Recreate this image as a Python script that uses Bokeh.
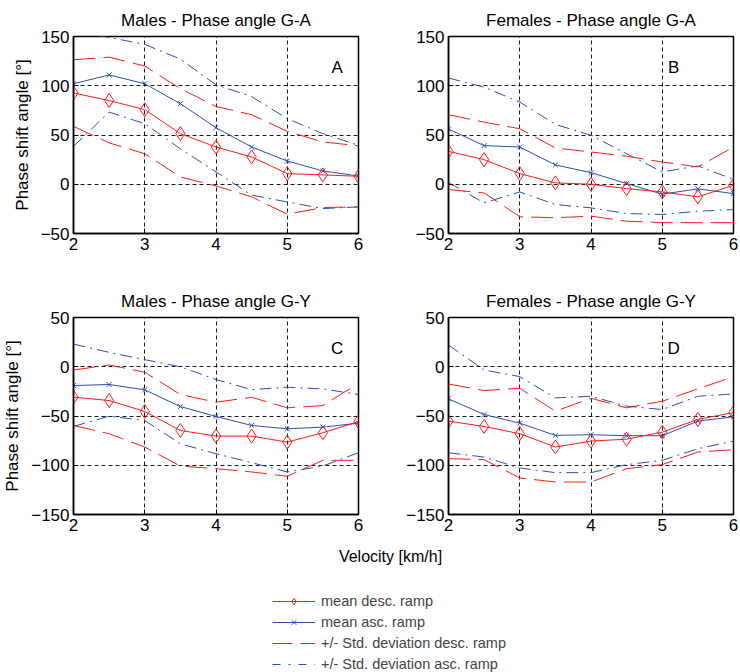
from bokeh.plotting import figure
from bokeh.layouts import column, row
from bokeh.models import Range1d, FixedTicker, Label, Legend, LegendItem, ColumnDataSource
from bokeh.embed import file_html
from bokeh.resources import INLINE

velocity = [2, 2.5, 3, 3.5, 4, 4.5, 5, 5.5, 6]

# Panel A - Males, phase angle G-A
a_mean_desc = [92.6, 85, 75.7, 51.4, 37.8, 27.7, 10.8, 9.5, 8.1]
a_mean_asc = [102, 111, 102, 81.8, 57.4, 37.8, 23.6, 13.5, 8.4]
a_sd_desc_up = [126.4, 129, 120, 97, 79, 70.6, 53.7, 43, 39]
a_sd_desc_lo = [58.8, 42, 31, 7.4, -1.7, -12.8, -30.4, -23.6, -23]
a_sd_asc_up = [156, 149, 142, 127, 101, 89, 66.6, 51.4, 39.5]
a_sd_asc_lo = [38.5, 73.3, 61.5, 36, 12.5, -11, -18, -24.7, -23]

# Panel B - Females, phase angle G-A
b_mean_desc = [33.4, 25, 10.8, 1.4, 0, -4.4, -7.8, -12.8, -1]
b_mean_asc = [56, 39.2, 37.8, 19.6, 11.8, 0.7, -10, -4.7, -9.5]
b_sd_desc_up = [70.6, 63, 56.4, 36.8, 32.8, 28.4, 22.6, 17.6, 37.8]
b_sd_desc_lo = [-5.4, -8.8, -33, -34, -32.4, -37.5, -38.9, -39, -39]
b_sd_asc_up = [107.8, 98.6, 83.4, 60.8, 49.7, 31, 12.5, 18.6, 5]
b_sd_asc_lo = [1.7, -18.9, -7.8, -20.6, -24, -29.7, -30.7, -27.4, -25.7]

# Panel C - Males, phase angle G-Y
c_mean_desc = [-30.9, -34.3, -45.4, -64.7, -70.4, -70.4, -76.5, -67, -55.6]
c_mean_asc = [-19.1, -18, -23.5, -40.4, -50.5, -59.6, -63, -61.3, -57.3]
c_sd_desc_up = [-3.3, 1.8, -5.6, -28.2, -36, -31, -41.7, -39.4, -16.8]
c_sd_desc_lo = [-59.6, -68, -81.5, -100.8, -103.5, -106.8, -111.2, -95, -95]
c_sd_asc_up = [23, 14.6, 7.2, 0, -13, -23.2, -20.8, -22.5, -28.2]
c_sd_asc_lo = [-60.6, -50.2, -54.6, -78.2, -88.3, -97.4, -106.8, -100.8, -87.3]

# Panel D - Females, phase angle G-Y
d_mean_desc = [-55.2, -60.6, -68, -81.5, -75.5, -73.5, -66.4, -53.5, -46.5]
d_mean_asc = [-32.6, -48.5, -57.3, -69.7, -69, -70, -70, -55.2, -50.8]
d_sd_desc_up = [-17.5, -24.2, -21.8, -45.1, -32, -41.7, -35, -22.5, -10]
d_sd_desc_lo = [-93.3, -94.3, -112.9, -117, -117, -103.5, -99.4, -86.6, -84.2]
d_sd_asc_up = [22, -3.3, -10, -31.6, -30, -40, -43.4, -30, -27.6]
d_sd_asc_lo = [-87.3, -91.7, -102.8, -107.5, -107.5, -99.4, -95, -83.2, -75.5]

titles = ["Males - Phase angle G-A", "Females - Phase angle G-A",
          "Males - Phase angle G-Y", "Females - Phase angle G-Y"]
letters = ["A", "B", "C", "D"]
y_ticks_top = [-50, 0, 50, 100, 150]
y_ticks_bottom = [-150, -100, -50, 0, 50]
x_ticks = [2, 3, 4, 5, 6]
y_label = "Phase shift angle [°]"
x_label = "Velocity [km/h]"
legend_labels = ["mean desc. ramp", "mean asc. ramp",
                 "+/- Std. deviation desc. ramp", "+/- Std. deviation asc. ramp"]

RED = "#ff1a1a"
BLUE = "#2f4fb0"
FONT = "Liberation Sans"
RED_DASH = "22 8"
BLUE_DASH = "12 5 2 5"


def panel(title, letter, series, yr, yticks, left, right, top, bottom, height, ylab):
    p = figure(width=370, height=height, output_backend="svg", toolbar_location=None,
               x_range=Range1d(2, 6), y_range=Range1d(*yr),
               min_border_left=left, min_border_right=right,
               min_border_top=top, min_border_bottom=bottom)
    p.title.text = title
    p.title.align = "center"
    p.title.text_font = FONT
    p.title.text_font_size = "17px"
    p.title.text_font_style = "normal"
    p.title.text_color = "black"
    p.title.standoff = 13
    p.outline_line_color = "black"
    p.outline_line_width = 1.5
    p.xaxis.ticker = FixedTicker(ticks=x_ticks)
    p.yaxis.ticker = FixedTicker(ticks=yticks)
    for ax in (p.xaxis[0], p.yaxis[0]):
        ax.major_label_text_font = FONT
        ax.major_label_text_font_size = "17px"
        ax.major_label_text_color = "black"
        ax.axis_line_color = "black"
        ax.axis_line_width = 1.5
        ax.major_tick_in = 5
        ax.major_tick_out = 0
        ax.minor_tick_line_color = None
        ax.major_tick_line_color = "black"
        ax.major_label_standoff = 4
    if ylab:
        p.yaxis.axis_label = y_label
        p.yaxis.axis_label_text_font = FONT
        p.yaxis.axis_label_text_font_size = "17px"
        p.yaxis.axis_label_text_font_style = "normal"
        p.yaxis.axis_label_text_color = "black"
        p.yaxis.axis_label_standoff = 6
    for g in (p.xgrid[0], p.ygrid[0]):
        g.grid_line_color = "black"
        g.grid_line_dash = "4 3"
        g.grid_line_width = 1
        g.grid_line_alpha = 0.9
    mean_desc, mean_asc, sd_desc_up, sd_desc_lo, sd_asc_up, sd_asc_lo = series
    for s in (sd_asc_up, sd_asc_lo):
        p.line(velocity, s, line_color=BLUE, line_width=1, line_dash=BLUE_DASH)
    for s in (sd_desc_up, sd_desc_lo):
        p.line(velocity, s, line_color=RED, line_width=1, line_dash=RED_DASH)
    p.line(velocity, mean_asc, line_color=BLUE, line_width=1)
    p.scatter(velocity, mean_asc, marker="x", size=7, line_color=BLUE, line_width=1)
    p.line(velocity, mean_desc, line_color=RED, line_width=1)
    p.scatter(velocity, mean_desc, marker="diamond", size=14, line_color=RED,
              fill_color=None, line_width=1)
    p.add_layout(Label(x=5.7 if letter in "AC" else 5.16, y=yr[1] - 31.5, text=letter,
                       text_align="center", text_baseline="middle",
                       text_font=FONT, text_font_size="17px", text_color="black"))
    return p


pA = panel(titles[0], "A", (a_mean_desc, a_mean_asc, a_sd_desc_up, a_sd_desc_lo, a_sd_asc_up, a_sd_asc_lo),
           (-50, 150), y_ticks_top, 73, 12, 36, 47, 280, True)
pB = panel(titles[1], "B", (b_mean_desc, b_mean_asc, b_sd_desc_up, b_sd_desc_lo, b_sd_asc_up, b_sd_asc_lo),
           (-50, 150), y_ticks_top, 78, 7, 36, 47, 280, False)
pC = panel(titles[2], "C", (c_mean_desc, c_mean_asc, c_sd_desc_up, c_sd_desc_lo, c_sd_asc_up, c_sd_asc_lo),
           (-150, 50), y_ticks_bottom, 73, 12, 37, 26, 260, True)
pD = panel(titles[3], "D", (d_mean_desc, d_mean_asc, d_sd_desc_up, d_sd_desc_lo, d_sd_asc_up, d_sd_asc_lo),
           (-150, 50), y_ticks_bottom, 78, 7, 37, 26, 260, False)

# Footer: common x label + legend
foot = figure(width=740, height=132, output_backend="svg", toolbar_location=None,
              x_range=Range1d(0, 740), y_range=Range1d(0, 132),
              min_border=0, min_border_left=0, min_border_right=0,
              min_border_top=0, min_border_bottom=0)
foot.axis.visible = False
foot.grid.visible = False
foot.outline_line_color = None
foot.add_layout(Label(x=390, y=116, text=x_label, text_align="center", text_baseline="middle",
                      text_font=FONT, text_font_size="16px", text_color="black"))

nan = float("nan")
empty = ColumnDataSource(data=dict(x=[nan], y=[nan]))
r_md_l = foot.line("x", "y", source=empty, line_color=RED, line_width=1)
r_md_m = foot.scatter("x", "y", source=empty, marker="diamond", size=12, line_color=RED,
                      fill_color=None, line_width=1)
r_ma_l = foot.line("x", "y", source=empty, line_color=BLUE, line_width=1)
r_ma_m = foot.scatter("x", "y", source=empty, marker="x", size=6, line_color=BLUE, line_width=1)
r_sd = foot.line("x", "y", source=empty, line_color=RED, line_width=1, line_dash="20 8")
r_sa = foot.line("x", "y", source=empty, line_color=BLUE, line_width=1, line_dash="8 8 2 8")

legend = Legend(items=[
    LegendItem(label=legend_labels[0], renderers=[r_md_l, r_md_m]),
    LegendItem(label=legend_labels[1], renderers=[r_ma_l, r_ma_m]),
    LegendItem(label=legend_labels[2], renderers=[r_sd]),
    LegendItem(label=legend_labels[3], renderers=[r_sa]),
], location=(272, 0))
legend.padding = 0
legend.margin = 0
legend.spacing = 5
legend.glyph_width = 43
legend.glyph_height = 16
legend.label_height = 16
legend.label_standoff = 6
legend.label_text_font = FONT
legend.label_text_font_size = "14.5px"
legend.border_line_color = None
legend.background_fill_alpha = 0
foot.add_layout(legend)

layout = column(row(pA, pB), row(pC, pD), foot)
open("out.html", "w").write(file_html(layout, INLINE))
